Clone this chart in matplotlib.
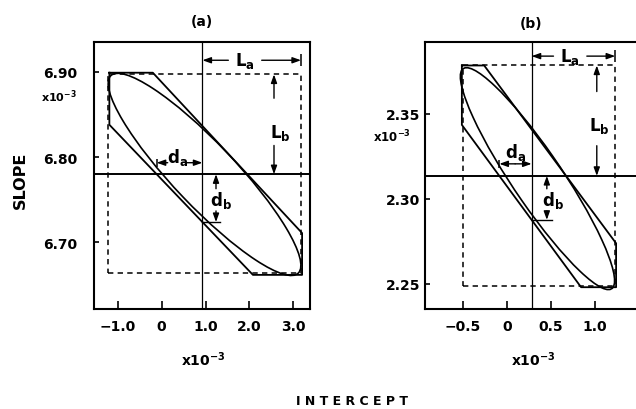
import matplotlib
matplotlib.use("Agg")
import matplotlib.pyplot as plt
import matplotlib.patches as mpatches
import matplotlib.transforms as mtransforms
import numpy as np

W, H = 636, 410

# panel (a): joint confidence region, slope vs intercept
a_hex_x = [-1.19, -0.20, 3.20, 3.20, 2.08, -1.19]
a_hex_y = [6.899, 6.899, 6.711, 6.662, 6.662, 6.838]
a_box_x = [-1.21, 3.175]
a_box_y = [6.664, 6.897]
a_ell_center = [0.978, 6.7798]
a_ell_half = [2.195, 0.1185]
a_ell_rho = -0.90
a_est = [0.93, 6.780]
a_xticks = [-1.0, 0.0, 1.0, 2.0, 3.0]
a_xticklabels = ["\u22121.0", "0", "1.0", "2.0", "3.0"]
a_yticks = [6.70, 6.80, 6.90]
a_yticklabels = ["6.70", "6.80", "6.90"]

# panel (b)
b_hex_x = [-0.51, -0.257, 1.239, 1.239, 0.842, -0.51]
b_hex_y = [2.3784, 2.3784, 2.2739, 2.2481, 2.2481, 2.3435]
b_box_x = [-0.50, 1.229]
b_box_y = [2.2487, 2.3784]
b_ell_center = [0.3475, 2.3119]
b_ell_half = [0.8745, 0.0652]
b_ell_rho = -0.92
b_est = [0.281, 2.3135]
b_xticks = [-0.5, 0.0, 0.5, 1.0]
b_xticklabels = ["\u22120.5", "0", "0.5", "1.0"]
b_yticks = [2.25, 2.30, 2.35]
b_yticklabels = ["2.25", "2.30", "2.35"]

plt.rcParams["font.family"] = "DejaVu Sans"
plt.rcParams["font.weight"] = "bold"
plt.rcParams["mathtext.fontset"] = "dejavusans"


def px_box(left, top, right, bottom):
    return [left / W, 1 - bottom / H, (right - left) / W, (bottom - top) / H]


def fig_text(fig, x, y, s, **kw):
    fig.text(x / W, 1 - y / H, s, ha="center", va="center", **kw)


def arrow(ax, tip, start, gap):
    ax.annotate("", xy=tip, xytext=start,
                arrowprops=dict(arrowstyle="-|>,head_length=0.5,head_width=0.18",
                                lw=1.0, color="k", shrinkA=gap, shrinkB=0,
                                mutation_scale=10))


def draw_panel(ax, hx, hy, box_x, box_y, center, half, rho, est, m):
    x0, y0 = est
    ax.axvline(x0, color="k", lw=0.9)
    ax.axhline(y0, color="k", lw=1.4)

    rect = mpatches.Rectangle((box_x[0], box_y[0]), box_x[1] - box_x[0],
                              box_y[1] - box_y[0], fill=False, ec="k", lw=1.1,
                              ls=(0, (3.5, 2.8)))
    ax.add_patch(rect)
    ax.plot(hx + hx[:1], hy + hy[:1], color="k", lw=1.3)

    ell = mpatches.Ellipse((0, 0), 2 * np.sqrt(1 + rho), 2 * np.sqrt(1 - rho),
                           angle=45, fill=False, ec="k", lw=1.2)
    ell.set_transform(mtransforms.Affine2D().scale(half[0], half[1])
                      .translate(center[0], center[1]) + ax.transData)
    ax.add_patch(ell)

    # where the lower diagonal edge meets the cross lines
    xc = np.interp(y0, [hy[4], hy[5]], [hx[4], hx[5]])
    yc = np.interp(x0, [hx[5], hx[4]], [hy[5], hy[4]])

    # L_a
    arrow(ax, (x0, m["la_y"]), (m["la_tx"], m["la_y"]), 12)
    arrow(ax, (box_x[1], m["la_y"]), (m["la_tx"], m["la_y"]), 12)
    ax.plot([box_x[1]], [m["la_y"]], marker="|", ms=8, mew=1.1, color="k")
    ax.text(m["la_tx"], m["la_y"], r"$\mathbf{L_a}$", ha="center", va="center", fontsize=12)

    # L_b
    arrow(ax, (m["lb_x"], box_y[1]), (m["lb_x"], m["lb_ty"]), m["lb_gap"][0])
    arrow(ax, (m["lb_x"], y0), (m["lb_x"], m["lb_ty"]), m["lb_gap"][1])
    ax.text(m["lb_tx"], m["lb_ty"], r"$\mathbf{L_b}$", ha="center", va="center", fontsize=12)

    # d_a
    arrow(ax, (xc, m["da_y"]), (m["da_ax"], m["da_y"]), m["da_gap"])
    arrow(ax, (x0, m["da_y"]), (m["da_ax"], m["da_y"]), m["da_gap"])
    ax.plot([xc], [m["da_y"]], marker="|", ms=6, mew=1.1, color="k")
    ax.text(m["da_tx"], m["da_ty"], r"$\mathbf{d_a}$", ha="center", va="center", fontsize=12)

    # d_b
    arrow(ax, (m["db_x"], y0), (m["db_x"], m["db_ay"]), m["db_gap"])
    arrow(ax, (m["db_x"], yc), (m["db_x"], m["db_ay"]), m["db_gap"])
    ax.plot([x0, m["db_bar"]], [yc, yc], color="k", lw=1.0)
    ax.text(m["db_tx"], m["db_ty"], r"$\mathbf{d_b}$", ha="center", va="center", fontsize=12)


def style_axes(ax, xlim, ylim, xt, xtl, yt, ytl, ypad):
    ax.set_xlim(*xlim)
    ax.set_ylim(*ylim)
    ax.set_xticks(xt)
    ax.set_xticklabels(xtl)
    ax.set_yticks(yt)
    ax.set_yticklabels(ytl)
    ax.tick_params(direction="in", top=False, right=False, width=1.2,
                   labelsize=10, color="k")
    ax.tick_params(axis="x", length=5.5, pad=7)
    ax.tick_params(axis="y", length=3.5, pad=ypad)
    for s in ax.spines.values():
        s.set_linewidth(1.5)


def main():
    fig = plt.figure(figsize=(W / 100, H / 100), dpi=100)
    ax_a = fig.add_axes(px_box(94, 43, 310, 310))
    ax_b = fig.add_axes(px_box(425, 43, 640, 310))

    marks_a = dict(la_y=6.9136, la_tx=1.90,
                   lb_x=2.56, lb_tx=2.70, lb_ty=6.830, lb_gap=(24, 10),
                   da_y=6.7935, da_ax=0.36, da_gap=7, da_tx=0.374, da_ty=6.801,
                   db_x=1.239, db_ay=6.750, db_gap=8, db_tx=1.342, db_ty=6.750,
                   db_bar=1.33)
    marks_b = dict(la_y=2.3839, la_tx=0.718,
                   lb_x=1.020, lb_tx=1.046, lb_ty=2.3435, lb_gap=(24, 15),
                   da_y=2.3206, da_ax=0.094, da_gap=0, da_tx=0.094, da_ty=2.3276,
                   db_x=0.4535, db_ay=2.2994, db_gap=8, db_tx=0.525, db_ty=2.2994,
                   db_bar=0.51)

    draw_panel(ax_a, a_hex_x, a_hex_y, a_box_x, a_box_y, a_ell_center,
               a_ell_half, a_ell_rho, a_est, marks_a)
    draw_panel(ax_b, b_hex_x, b_hex_y, b_box_x, b_box_y, b_ell_center,
               b_ell_half, b_ell_rho, b_est, marks_b)

    style_axes(ax_a, (-1.54, 3.38), (6.622, 6.935), a_xticks, a_xticklabels,
               a_yticks, a_yticklabels, 12)
    style_axes(ax_b, (-0.928, 1.510), (2.2353, 2.3922), b_xticks, b_xticklabels,
               b_yticks, b_yticklabels, 3.5)

    fig_text(fig, 202, 22, "(a)", fontsize=10)
    fig_text(fig, 531, 24, "(b)", fontsize=10)
    fig_text(fig, 20, 180, "SLOPE", fontsize=11.5, rotation=90)
    fig_text(fig, 59, 97, r"$\mathbf{x10^{-3}}$", fontsize=8)
    fig_text(fig, 392, 137, r"$\mathbf{x10^{-3}}$", fontsize=8.5)
    fig_text(fig, 203, 360, r"$\mathbf{x10^{-3}}$", fontsize=10)
    fig_text(fig, 533, 360, r"$\mathbf{x10^{-3}}$", fontsize=10)
    fig_text(fig, 352, 402, "I N T E R C E P T", fontsize=9)

    fig.savefig("out.png", dpi=100)


if __name__ == "__main__":
    main()
